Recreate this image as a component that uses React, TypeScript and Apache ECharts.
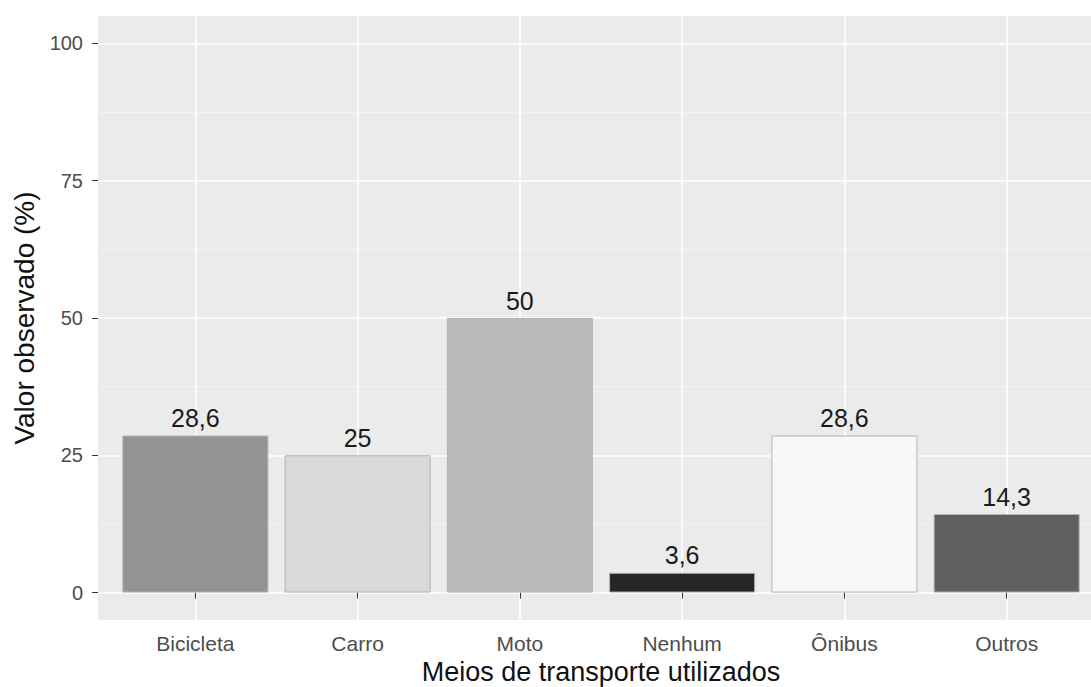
import React, { useEffect, useRef } from "react";
import * as echarts from "echarts";

const categories = ["Bicicleta", "Carro", "Moto", "Nenhum", "Ônibus", "Outros"];
const values = [28.6, 25, 50, 3.6, 28.6, 14.3];
const barColors = ["#939393", "#d9d9d9", "#bababa", "#262626", "#f7f7f7", "#5f5f5f"];
const yTicks = [0, 25, 50, 75, 100];
const yMinorTicks = [12.5, 37.5, 62.5, 87.5];
const xPositions = categories.map((_, i) => i + 1);

export default function App() {
  const ref = useRef<HTMLDivElement>(null);
  useEffect(() => {
    if (!ref.current) return;
    const chart = echarts.init(ref.current, undefined, { renderer: "svg" });
    const gridLeft = 98;
    const gridWidth = 1006;
    const unitPx = gridWidth / 6.2;
    chart.setOption({
      animation: false,
      backgroundColor: "#ffffff",
      textStyle: { fontFamily: "Liberation Sans, Arial, sans-serif" },
      grid: {
        left: gridLeft,
        width: gridWidth,
        top: 16,
        bottom: 67,
        show: true,
        backgroundColor: "#ebebeb",
        borderWidth: 0,
        outerBoundsMode: "none",
        containLabel: false,
      },
      xAxis: {
        type: "value",
        min: 0.4,
        max: 6.6,
        name: "Meios de transporte utilizados",
        nameLocation: "middle",
        nameGap: 38,
        nameTextStyle: { fontSize: 27, color: "#111111" },
        axisLine: { show: false },
        axisTick: { show: true, length: 6, lineStyle: { color: "#333333", width: 1 }, customValues: xPositions },
        axisLabel: {
          customValues: xPositions,
          fontSize: 21,
          color: "#4d4d4d",
          margin: 13,
          formatter: (v: number) => categories[Math.round(v) - 1] ?? "",
        },
        splitLine: { show: true, lineStyle: { color: "#ffffff", width: 1.6 } },
      },
      yAxis: [
        {
          type: "value",
          min: -5,
          max: 105,
          name: "Valor observado (%)",
          nameLocation: "middle",
          nameGap: 55,
          nameTextStyle: { fontSize: 28, color: "#111111" },
          axisLine: { show: false },
          axisTick: { show: true, length: 6, lineStyle: { color: "#333333", width: 1 }, customValues: yTicks },
          axisLabel: { customValues: yTicks, fontSize: 20, color: "#4d4d4d", margin: 15 },
          splitLine: { show: true, lineStyle: { color: "#ffffff", width: 1.6 } },
        },
        {
          type: "value",
          min: -5,
          max: 105,
          position: "left",
          axisLine: { show: false },
          axisTick: { show: false, customValues: yMinorTicks },
          axisLabel: { show: false, customValues: yMinorTicks },
          splitLine: { show: true, lineStyle: { color: "#f5f5f5", width: 0.8 } },
        },
      ],
      series: [
        {
          type: "bar",
          xAxisIndex: 0,
          yAxisIndex: 0,
          barWidth: unitPx * 0.9,
          data: categories.map((c, i) => ({
            value: [xPositions[i], values[i]],
            name: c,
            itemStyle: { color: barColors[i], borderColor: "#b3b3b3", borderWidth: 1 },
          })),
          label: {
            show: true,
            position: "top",
            distance: 5,
            fontSize: 25,
            color: "#1a1a1a",
            formatter: (p: any) => String(p.value[1]).replace(".", ","),
          },
        },
      ],
    });
    return () => chart.dispose();
  }, []);
  return (
    <div style={{ position: "absolute", left: 0, top: 0, width: 1091, height: 687, overflow: "hidden" }}>
      <div ref={ref} style={{ width: 1112, height: 687 }} />
    </div>
  );
}
